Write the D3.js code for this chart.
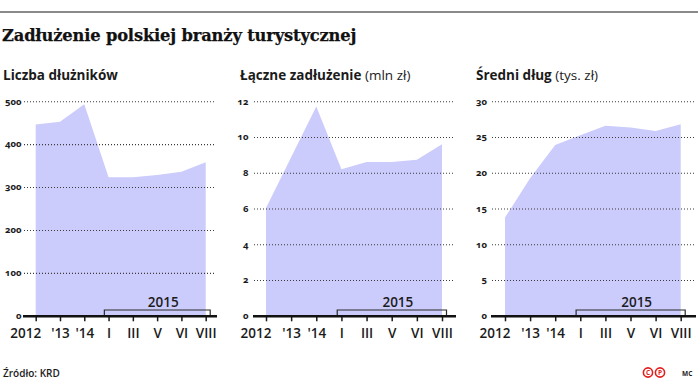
<!DOCTYPE html>
<html>
<head>
<meta charset="utf-8">
<script src="https://cdn.jsdelivr.net/npm/d3@7"></script>
<style>
  html, body { margin: 0; padding: 0; background: #fff; }
  svg { display: block; }
</style>
</head>
<body>
<svg id="chart" width="698" height="380"></svg>
<script>
// ---- data ----
const categories = ["2012", "'13", "'14", "I", "III", "V", "VI", "VIII"];
const debtors   = [447, 453, 494, 324, 324, 329, 337, 359];          // Liczba dłużników
const totalDebt = [6.05, 8.9, 11.73, 8.22, 8.63, 8.63, 8.76, 9.62];   // mln zł
const avgDebt   = [13.8, 19.3, 23.95, 25.3, 26.65, 26.4, 25.9, 26.85]; // tys. zł
const ticksDebtors = [0, 100, 200, 300, 400, 500];
const ticksTotal   = [0, 2, 4, 6, 8, 10, 12];
const ticksAvg     = [0, 5, 10, 15, 20, 25, 30];
const yearLabel = "2015";
const yearFrom = "I", yearTo = "VIII";
const chartTitle = "Zadłużenie polskiej branży turystycznej";
const source = "Źródło: KRD";

// ---- layout ----
const panels = [
  { title: "Liczba dłużników", unit: "", values: debtors, ticks: ticksDebtors,
    gx0: 24, gx1: 216, px0: 35.7, px1: 205.7, labelX: 21.5, titleX: 3 },
  { title: "Łączne zadłużenie", unit: " (mln zł)", values: totalDebt, ticks: ticksTotal,
    gx0: 254, gx1: 455, px0: 266, px1: 442, labelX: 248.5, titleX: 240 },
  { title: "Średni dług", unit: " (tys. zł)", values: avgDebt, ticks: ticksAvg,
    gx0: 492, gx1: 695, px0: 505, px1: 680.7, labelX: 487, titleX: 476 }
];
const yBottom = 316.3, yTop = 101.7;
const fill = "#cbcbfc";
const ink = "#1b1b1b";
const sans = "'Open Sans', 'Noto Sans', sans-serif";

const svg = d3.select("#chart");

// top rule
svg.append("line").attr("x1", 0).attr("x2", 698).attr("y1", 12).attr("y2", 12)
  .attr("stroke", "#8a8a8a").attr("stroke-width", 2);

// main title
svg.append("text").attr("x", 2).attr("y", 41)
  .attr("font-family", "'DejaVu Serif', 'Liberation Serif', serif")
  .attr("font-weight", 700).attr("font-size", 16.3).attr("fill", "#111")
  .attr("letter-spacing", -0.15)
  .attr("stroke", "#111").attr("stroke-width", 0.25)
  .text(chartTitle);

panels.forEach(p => {
  const g = svg.append("g");
  const x = d3.scalePoint().domain(categories).range([p.px0, p.px1]);
  const y = d3.scaleLinear().domain([0, d3.max(p.ticks)]).range([yBottom, yTop]);

  // panel title
  const t = g.append("text").attr("x", p.titleX).attr("y", 80)
    .attr("font-family", sans).attr("font-size", 13.5).attr("fill", ink);
  t.append("tspan").attr("font-weight", 700).text(p.title);
  if (p.unit) t.append("tspan").attr("font-weight", 400).text(p.unit);

  // area
  const data = categories.map((c, i) => ({ c, v: p.values[i] }));
  g.append("path").datum(data)
    .attr("fill", fill)
    .attr("d", d3.area().x(d => x(d.c)).y0(y(0)).y1(d => y(d.v)));

  // gridlines (dotted)
  g.selectAll(".grid").data(p.ticks.filter(v => v > 0)).join("line")
    .attr("x1", p.gx0).attr("x2", p.gx1)
    .attr("y1", d => y(d)).attr("y2", d => y(d))
    .attr("stroke", "#3a3a3a").attr("stroke-width", 1.1)
    .attr("stroke-dasharray", "1,2");

  // y labels
  g.selectAll(".ylab").data(p.ticks).join("text")
    .attr("x", p.labelX).attr("y", d => y(d)).attr("dy", "0.3em")
    .attr("text-anchor", "end")
    .attr("font-family", sans).attr("font-weight", 700).attr("font-size", 9.5)
    .style("font-variant-numeric", "oldstyle-nums")
    .attr("fill", ink).text(d => d);

  // 2015 bracket
  const bx0 = x(yearFrom) - 4.2, bx1 = x(yearTo) + 4.5;
  g.append("path")
    .attr("d", `M${bx0},${yBottom} V310 H${bx1} V${yBottom}`)
    .attr("fill", "none").attr("stroke", "#2a2a2a").attr("stroke-width", 1.2);
  g.append("text").attr("x", (bx0 + bx1) / 2 + 6).attr("y", 306.5)
    .attr("text-anchor", "middle").attr("font-family", sans)
    .attr("font-weight", 600).attr("font-size", 13.5).attr("fill", ink)
    .text(yearLabel);

  // x axis with ticks
  const axis = d3.axisBottom(x).tickSize(5).tickSizeOuter(0).tickPadding(0);
  const ag = g.append("g").attr("transform", `translate(0,${yBottom})`).call(axis);
  ag.select(".domain").remove();
  ag.selectAll(".tick line").attr("stroke", ink).attr("stroke-width", 1.5);
  ag.selectAll(".tick text")
    .attr("y", 21.5).attr("dy", 0)
    .attr("font-family", sans).attr("font-weight", 600).attr("font-size", 13.5)
    .attr("fill", ink)
    .attr("text-anchor", d => d === categories[0] ? "end" : "middle")
    .attr("x", d => d === categories[0] ? 5 : 0);

  // baseline
  g.append("line").attr("x1", p.gx0 - 1).attr("x2", p.gx1 + 1)
    .attr("y1", yBottom).attr("y2", yBottom)
    .attr("stroke", "#111").attr("stroke-width", 2.6);
});

// footer
svg.append("text").attr("x", 3).attr("y", 377)
  .attr("font-family", sans).attr("font-weight", 600).attr("font-size", 10)
  .attr("fill", ink).text(source);

const logo = svg.append("g").attr("transform", "translate(648,372.5)");
[["C", 0], ["P", 12]].forEach(([ch, dx]) => {
  logo.append("circle").attr("cx", dx).attr("cy", 0).attr("r", 4.6)
    .attr("fill", "none").attr("stroke", "#e0201c").attr("stroke-width", 1.6);
  logo.append("text").attr("x", dx).attr("y", 0).attr("dy", "0.35em")
    .attr("text-anchor", "middle").attr("font-family", sans).attr("font-weight", 700)
    .attr("font-size", 6.5).attr("fill", "#e0201c").text(ch);
});
svg.append("text").attr("x", 682).attr("y", 375.5)
  .attr("font-family", sans).attr("font-weight", 700).attr("font-size", 6.5)
  .attr("fill", ink).text("MC");
</script>
</body>
</html>
